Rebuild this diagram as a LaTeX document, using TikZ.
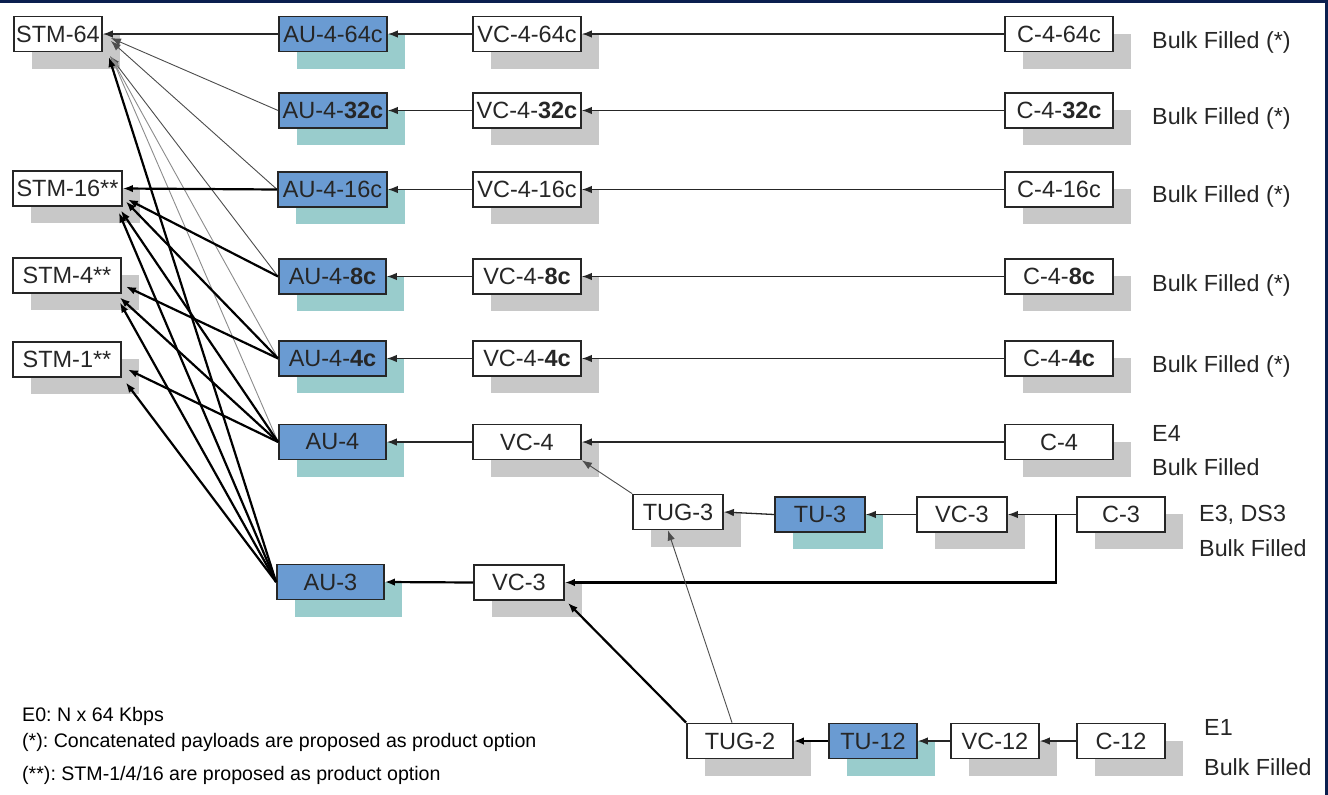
\documentclass[tikz,border=0pt]{standalone}
\usepackage{fontspec}
\setmainfont{Liberation Sans}
\usetikzlibrary{shadows,arrows.meta,calc}
\definecolor{aublue}{HTML}{6A9BD2}
\definecolor{tealsh}{HTML}{99CCCC}
\definecolor{graysh}{HTML}{C8C8C8}
\definecolor{navy}{HTML}{0B1F4F}
\definecolor{ink}{HTML}{262626}
\frenchspacing
\begin{document}
\begin{tikzpicture}[x=1pt,y=-1pt,
  basebox/.style={draw=ink, line width=1.8pt, inner sep=0pt, minimum height=35pt,
    text=ink, font=\fontsize{23.5}{26}\selectfont},
  box/.style={basebox, fill=white,
    general shadow={fill=graysh, shadow xshift=18pt, shadow yshift=-17pt}},
  au/.style={basebox, fill=aublue,
    general shadow={fill=tealsh, shadow xshift=18pt, shadow yshift=-17pt}},
  conn/.style={draw=ink, line width=1.3pt, -{Latex[length=10pt,width=7.5pt]}},
  thinc/.style={conn, line width=0.9pt, draw=black!70},
  faint/.style={conn, line width=0.9pt, draw=black!45},
  thickc/.style={conn, line width=2.2pt, draw=black},
  lbl/.style={anchor=west, text=ink, inner sep=0pt, font=\fontsize{23.3}{26}\selectfont},
  note/.style={anchor=west, text=black, inner sep=0pt, font=\fontsize{19.6}{22}\selectfont}]
\useasboundingbox (0,0) rectangle (1328,795);
\fill[white] (0,0) rectangle (1328,795);
\fill[navy] (0,0) rectangle (1328,3);
\fill[navy] (1325,0) rectangle (1328,795);

% STM column
\node[box, minimum width=88pt]  (stm64) at (58,34)    {STM-64};
\node[box, minimum width=109pt] (stm16) at (67.5,188.5) {STM-16**};
\node[box, minimum width=108pt] (stm4)  at (67,275.5)  {STM-4**};
\node[box, minimum width=108pt] (stm1)  at (67,359.5)  {STM-1**};

% AU column
\node[au, minimum width=108pt] (au64) at (333,34)    {AU-4-64c};
\node[au, minimum width=108pt] (au32) at (333,110.5) {AU-4-\textbf{32c}};
\node[au, minimum width=109pt] (au16) at (332.5,189.5) {AU-4-16c};
\node[au, minimum width=107pt] (au8)  at (332.5,276.5) {AU-4-\textbf{8c}};
\node[au, minimum width=107pt] (au4c) at (332.5,358.5) {AU-4-\textbf{4c}};
\node[au, minimum width=107pt] (au4)  at (332.5,442)   {AU-4};
\node[au, minimum width=107pt] (au3)  at (330.5,582)   {AU-3};

% VC column
\node[box, minimum width=108pt] (vc64) at (527,34)    {VC-4-64c};
\node[box, minimum width=108pt] (vc32) at (527,110.5) {VC-4-\textbf{32c}};
\node[box, minimum width=108pt] (vc16) at (527,189.5) {VC-4-16c};
\node[box, minimum width=108pt] (vc8)  at (527,276.5) {VC-4-\textbf{8c}};
\node[box, minimum width=108pt] (vc4c) at (527,358.5) {VC-4-\textbf{4c}};
\node[box, minimum width=108pt] (vc4)  at (527,442)   {VC-4};
\node[box, minimum width=90pt]  (vc3l) at (519,582.5) {VC-3};

% C column
\node[box, minimum width=108pt] (c64) at (1059,34)    {C-4-64c};
\node[box, minimum width=108pt] (c32) at (1059,110.5) {C-4-\textbf{32c}};
\node[box, minimum width=108pt] (c16) at (1059,189.5) {C-4-16c};
\node[box, minimum width=108pt] (c8)  at (1059,276.5) {C-4-\textbf{8c}};
\node[box, minimum width=108pt] (c4c) at (1059,358.5) {C-4-\textbf{4c}};
\node[box, minimum width=108pt] (c4)  at (1059,442)   {C-4};

% TUG-3 row
\node[box, minimum width=90pt] (tug3) at (678,512)   {TUG-3};
\node[au,  minimum width=90pt] (tu3)  at (820,514.5) {TU-3};
\node[box, minimum width=90pt] (vc3u) at (962,514.5) {VC-3};
\node[box, minimum width=88pt] (c3)   at (1121,514.5) {C-3};

% TUG-2 row
\node[box, minimum width=106pt] (tug2) at (740,741) {TUG-2};
\node[au,  minimum width=88pt]  (tu12) at (873,741) {TU-12};
\node[box, minimum width=88pt]  (vc12) at (995,741) {VC-12};
\node[box, minimum width=88pt]  (c12)  at (1121,741) {C-12};

% side labels
\node[lbl] (bf1) at (1152,42)  {Bulk Filled (*)};
\node[lbl] (bf2) at (1152,118) {Bulk Filled (*)};
\node[lbl] (bf3) at (1152,196) {Bulk Filled (*)};
\node[lbl] (bf4) at (1152,285) {Bulk Filled (*)};
\node[lbl] (bf5) at (1152,366) {Bulk Filled (*)};
\node[lbl] (e4)  at (1152,433) {E4};
\node[lbl] (bf6) at (1152,467) {Bulk Filled};
\node[lbl] (e3)  at (1199,515) {E3, DS3};
\node[lbl] (bf7) at (1199,548) {Bulk Filled};
\node[lbl] (e1)  at (1204,727) {E1};
\node[lbl] (bf8) at (1204,767) {Bulk Filled};

% legend
\node[note] (n0) at (22,716) {E0: N x 64 Kbps};
\node[note] (n1) at (22,742) {(*): Concatenated payloads are proposed as product option};
\node[note] (n2) at (22,775) {(**): STM-1/4/16 are proposed as product option};

% C -> VC
\draw[conn] (c64.west) -- (vc64.east);
\draw[conn] (c32.west) -- (vc32.east);
\draw[conn] (c16.west) -- (vc16.east);
\draw[conn] (c8.west)  -- (vc8.east);
\draw[conn] (c4c.west) -- (vc4c.east);
\draw[conn] (c4.west)  -- (vc4.east);

% VC -> AU
\draw[conn] (vc64.west) -- (au64.east);
\draw[conn] (vc32.west) -- (au32.east);
\draw[conn] (vc16.west) -- (au16.east);
\draw[conn] (vc8.west)  -- (au8.east);
\draw[conn] (vc4c.west) -- (au4c.east);
\draw[conn] (vc4.west)  -- (au4.east);
\draw[thickc] (vc3l.west) -- (au3.east);

% E3 path
\coordinate (j3) at ($(c3.west)!0.3!(vc3u.east)$);
\draw[conn] (c3.west) -- (vc3u.east);
\draw[conn] (vc3u.west) -- (tu3.east);
\draw[conn] (tu3.west) -- (tug3.east);
\draw[thickc] (j3) -- (j3 |- vc3l.east) -- (vc3l.east);
\draw[thinc] (tug3.north west) -- (vc4.south east);

% E1 path
\draw[conn] (c12.west) -- (vc12.east);
\draw[conn] (vc12.west) -- (tu12.east);
\draw[thickc] (tu12.west) -- (tug2.east);
\draw[thinc] ($(tug2.north)+(-8,0)$) -- ($(tug3.south)+(-10,0)$);
\draw[thickc] (tug2.north west) -- ($(vc3l.south east)+(3,2)$);

% AU -> STM-64
\draw[conn]  (au64.west) -- (stm64.east);
\draw[thinc] (au32.west) -- ($(stm64.east)+(8,4)$);
\draw[thinc] (au16.west) -- ($(stm64.east)+(8,7)$);
\draw[thinc] (au8.west)  -- ($(stm64.east)+(7,22)$);
\draw[faint] (au4c.west) -- ($(stm64.east)+(8,23)$);
\draw[faint] (au4.west)  -- ($(stm64.east)+(9,24)$);
\draw[thickc] (au3.west) -- ($(stm64.east)+(6,23)$);

% AU -> STM-16
\draw[thickc] (au16.west) -- (stm16.east);
\draw[thickc] (au8.west)  -- ($(stm16.east)+(5,11)$);
\draw[thickc] (au4c.west) -- ($(stm16.east)+(3,13)$);
\draw[thickc] (au4.west)  -- ($(stm16.east)+(-2,22)$);
\draw[thickc] (au3.west)  -- ($(stm16.east)+(-4,24)$);

% AU -> STM-4
\draw[thickc] (au4c.west) -- ($(stm4.east)+(4,11)$);
\draw[thickc] (au4.west)  -- ($(stm4.east)+(-2,22)$);
\draw[thickc] (au3.west)  -- ($(stm4.east)+(-2,27)$);

% AU -> STM-1
\draw[thickc] (au4.west) -- ($(stm1.east)+(6,10)$);
\draw[thickc] (au3.west) -- ($(stm1.east)+(4,23)$);
\end{tikzpicture}
\end{document}
